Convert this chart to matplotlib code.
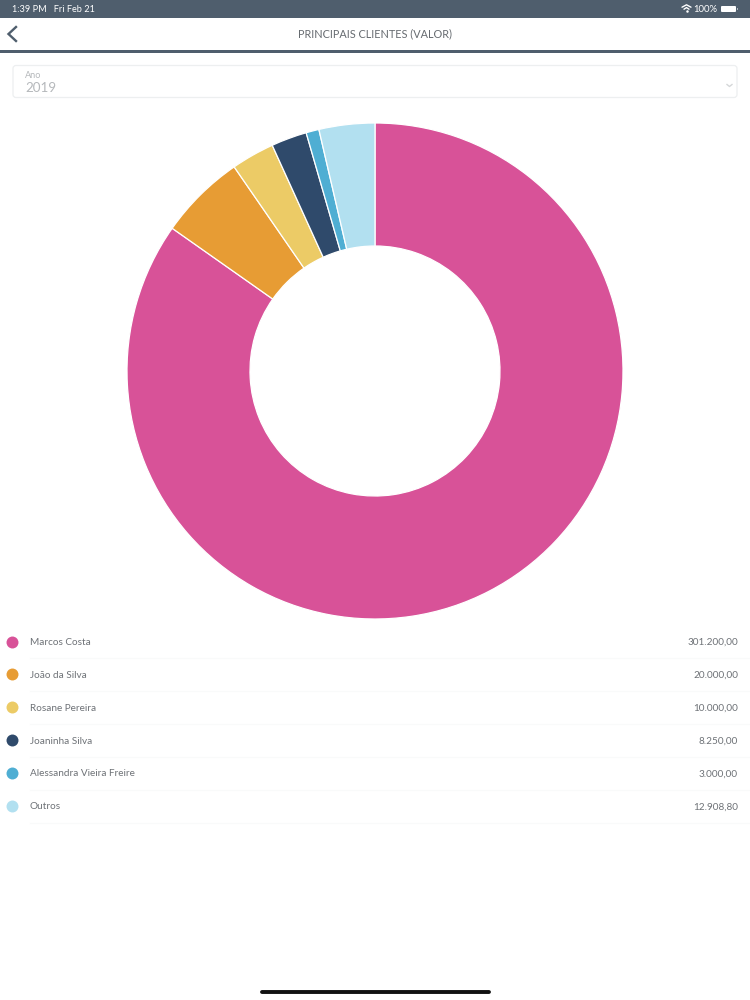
import matplotlib
matplotlib.use("Agg")
import matplotlib.pyplot as plt
from matplotlib.patches import Rectangle, FancyBboxPatch

plt.rcParams['font.family'] = ['Lato', 'DejaVu Sans']

clients = ["Marcos Costa", "João da Silva", "Rosane Pereira", "Joaninha Silva",
           "Alessandra Vieira Freire", "Outros"]
values = [301200.00, 20000.00, 10000.00, 8250.00, 3000.00, 12908.80]
value_labels = ["301.200,00", "20.000,00", "10.000,00", "8.250,00", "3.000,00", "12.908,80"]
colors = ["#D85298", "#E79C34", "#ECCB66", "#2F4A6B", "#4FAED3", "#B2E0F0"]

title = "PRINCIPAIS CLIENTES (VALOR)"
status_left = "1:39 PM   Fri Feb 21"
status_right = "100%"
field_label = "Ano"
field_value = "2019"

W, H = 750, 1000
fig = plt.figure(figsize=(W / 100, H / 100), dpi=100, facecolor="white")

bg = fig.add_axes([0, 0, 1, 1])
bg.set_xlim(0, W)
bg.set_ylim(H, 0)
bg.axis("off")

# status bar and header
bg.add_patch(Rectangle((0, 0), W, 18, fc="#4F5E6D", ec="none"))
bg.add_patch(Rectangle((0, 50), W, 2.6, fc="#4F5E6D", ec="none"))
bg.text(12, 9, status_left, color="white", fontsize=6.6, va="center", ha="left")
bg.text(717, 9, status_right, color="white", fontsize=6.8, va="center", ha="right")
bg.add_patch(FancyBboxPatch((721, 6), 15, 6, boxstyle="round,pad=0,rounding_size=1",
                            fc="white", ec="none"))
bg.add_patch(Rectangle((737, 8), 1, 2, fc="#AEB6BE", ec="none"))
# wifi glyph
bg.plot([682, 686.5, 691], [7.2, 4.8, 7.2], color="white", lw=1.0, solid_capstyle="round")
bg.plot([684, 686.5, 689], [9.2, 7.6, 9.2], color="white", lw=1.0, solid_capstyle="round")
bg.plot([686.5], [11.3], "o", color="white", ms=1.8, mec="none")

bg.plot([16, 8.5, 16], [27, 34, 41], color="#4F5E6D", lw=1.7, solid_joinstyle="miter")
bg.text(375, 33.5, title, color="#666B70", fontsize=7.8, va="center", ha="center")

# year selector
bg.add_patch(FancyBboxPatch((13, 65.5), 724, 32, boxstyle="round,pad=0,rounding_size=3",
                            fc="white", ec="#EDEFF0", lw=0.9))
bg.text(25, 76, field_label, color="#B5B8BB", fontsize=6.6, va="center", ha="left")
bg.text(25, 87.5, field_value, color="#B5B8BB", fontsize=9.6, va="center", ha="left")
bg.plot([727, 729.5, 732], [84.5, 86.5, 84.5], color="#D5D7D9", lw=1)

# legend rows
for i, (name, label, c) in enumerate(zip(clients, value_labels, colors)):
    y = 641.5 + i * 32.9
    bg.plot([12], [y], "o", color=c, ms=8.6, mec="none")
    bg.text(29.5, y + 0.9, name, color="#6E7277", fontsize=7.2, va="center", ha="left")
    bg.text(738, y + 0.9, label, color="#6E7277", fontsize=7.2, va="center", ha="right")
    bg.plot([30, W], [y + 16.5, y + 16.5], color="#F9FAFA", lw=0.8)

# donut: centre (375, 371), outer radius 248 px, inner radius 125 px
cx, cy, r = 375, 371, 248
pie_ax = fig.add_axes([(cx - r) / W, 1 - (cy + r) / H, 2 * r / W, 2 * r / H])
pie_ax.pie(values, colors=colors, startangle=90, counterclock=False, radius=1,
           wedgeprops=dict(width=1 - 125 / 248, edgecolor="white", linewidth=0.9))
pie_ax.set_xlim(-1, 1)
pie_ax.set_ylim(-1, 1)
pie_ax.set_aspect("equal")

# home indicator
bg.plot([262, 489], [992, 992], color="#111111", lw=2.8, solid_capstyle="round")

fig.savefig("out.png", dpi=100, facecolor="white")
